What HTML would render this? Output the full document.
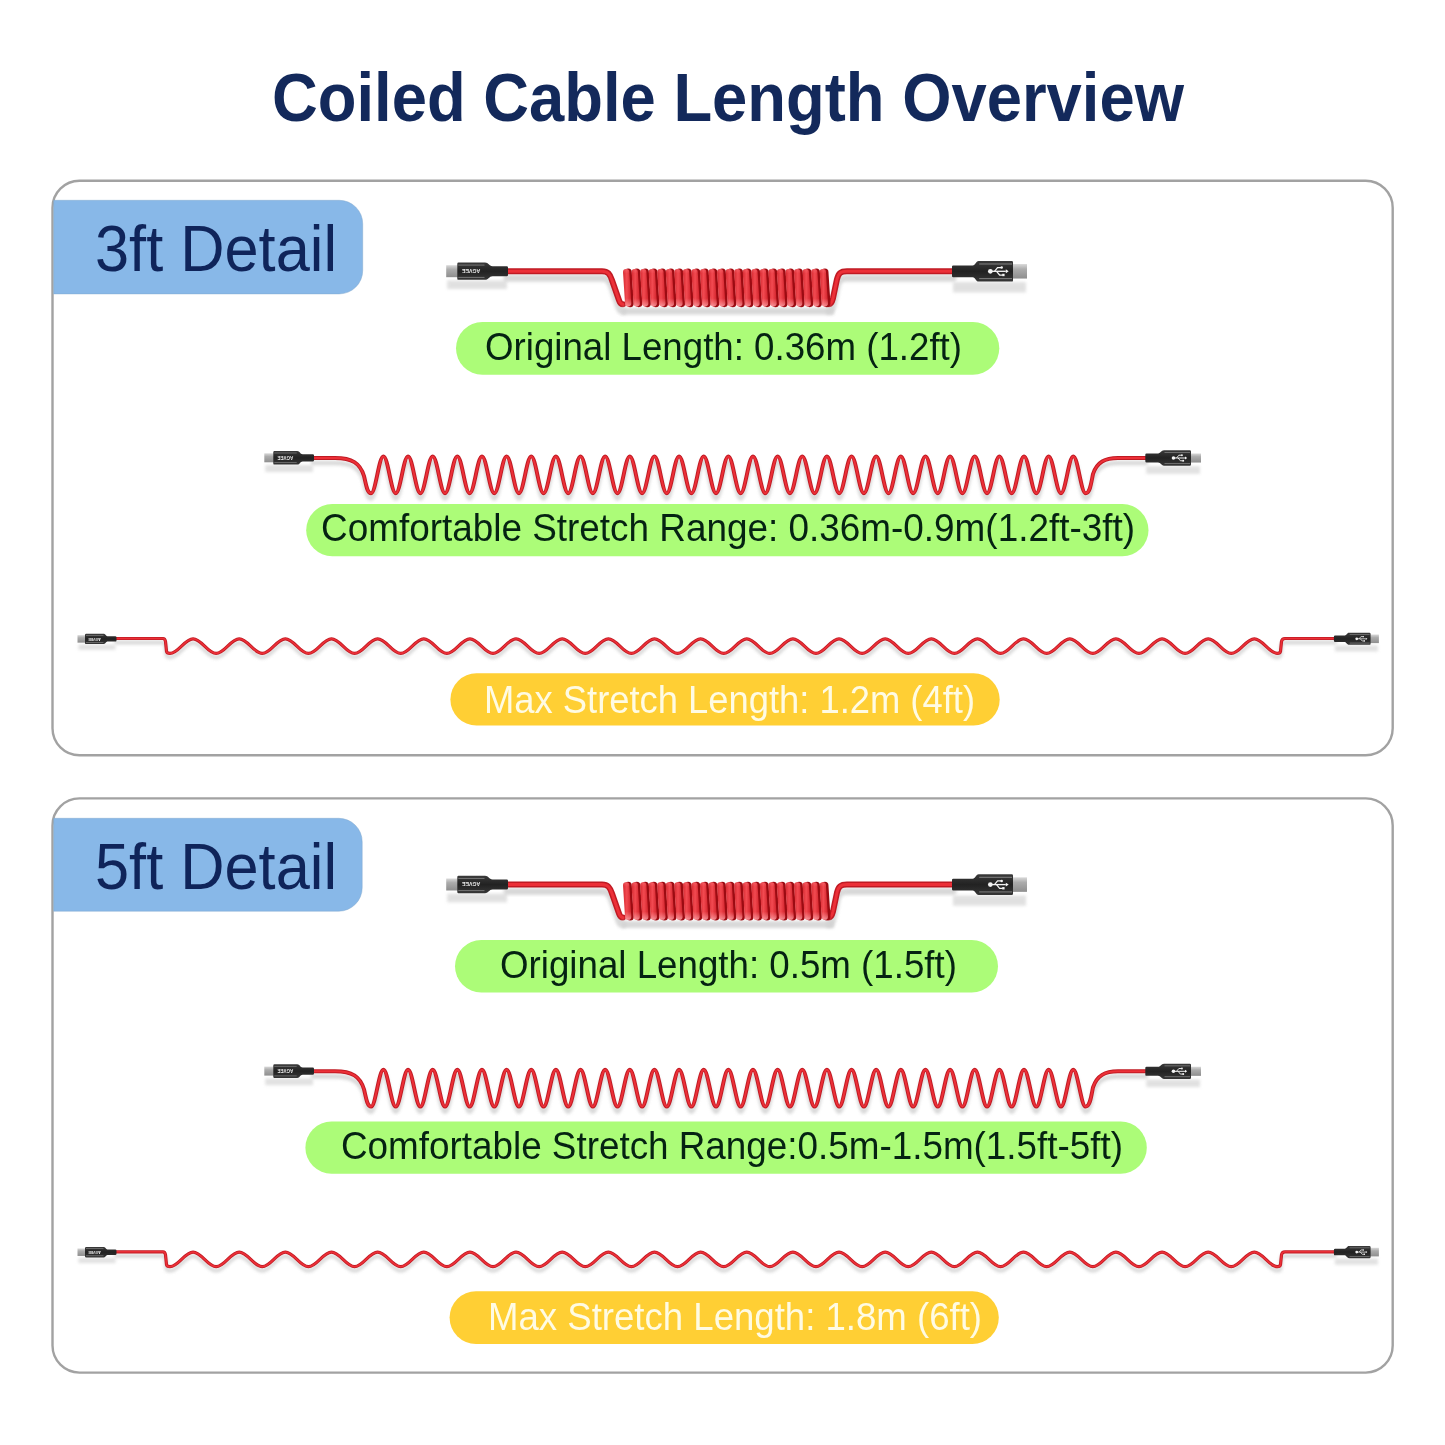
<!DOCTYPE html>
<html><head><meta charset="utf-8"><title>Coiled Cable Length Overview</title>
<style>
html,body{margin:0;padding:0;background:#fff;}
body{width:1445px;height:1445px;position:relative;overflow:hidden;font-family:"Liberation Sans",sans-serif;}
svg{position:absolute;left:0;top:0;display:block;}
</style></head><body>
<svg style="will-change:transform" width="1445" height="1445" viewBox="0 0 1445 1445">
<defs>
<linearGradient id="gTip" x1="0" y1="0" x2="0" y2="1"><stop offset="0" stop-color="#d9d9d9"/><stop offset="0.35" stop-color="#acacac"/><stop offset="1" stop-color="#8e8e8e"/></linearGradient>
<linearGradient id="gBody" x1="0" y1="0" x2="0" y2="1"><stop offset="0" stop-color="#3a3a3a"/><stop offset="0.5" stop-color="#222"/><stop offset="1" stop-color="#363636"/></linearGradient>
<linearGradient id="gCoil" x1="0" y1="0" x2="1" y2="0"><stop offset="0" stop-color="#d62a31"/><stop offset="0.45" stop-color="#f24a51"/><stop offset="1" stop-color="#d0222a"/></linearGradient>
<linearGradient id="gCoilV" x1="0" y1="0" x2="0" y2="1"><stop offset="0" stop-color="#ff8088" stop-opacity="0.35"/><stop offset="0.12" stop-color="#ff8088" stop-opacity="0"/><stop offset="0.78" stop-color="#ffb0b4" stop-opacity="0"/><stop offset="1" stop-color="#ffc8cc" stop-opacity="0.6"/></linearGradient>
<filter id="bl" x="-10%" y="-100%" width="120%" height="300%"><feGaussianBlur stdDeviation="1.4"/></filter>
<path id="po1" d="M507,271.2L602,271.2C608,271.2 610,274.2 612,280.2L619,300.2C620,303.2 621,304.2 623,304.2" fill="none" stroke-linecap="round" stroke-linejoin="round"/>
<path id="po2" d="M829,304.2C831,304.2 832,302.2 833,298.2L837,279.2C838.5,273.2 840.5,271.2 847,271.2L953,271.2" fill="none" stroke-linecap="round" stroke-linejoin="round"/>
<path id="pc" d="M313,458L335,458C352,458 360,463 364,476C366,484 367,493.3 371.1,493.3C375.59,493.3 378.93,456.4 383.42,456.4 C387.9,456.4 391.25,493.3 395.74,493.3 C400.22,493.3 403.57,456.4 408.06,456.4 C412.54,456.4 415.89,493.3 420.38,493.3 C424.86,493.3 428.21,456.4 432.69,456.4 C437.18,456.4 440.53,493.3 445.01,493.3 C449.5,493.3 452.85,456.4 457.33,456.4 C461.82,456.4 465.17,493.3 469.65,493.3 C474.14,493.3 477.49,456.4 481.97,456.4 C486.46,456.4 489.8,493.3 494.29,493.3 C498.77,493.3 502.12,456.4 506.61,456.4 C511.09,456.4 514.44,493.3 518.93,493.3 C523.41,493.3 526.76,456.4 531.25,456.4 C535.73,456.4 539.08,493.3 543.57,493.3 C548.05,493.3 551.4,456.4 555.88,456.4 C560.37,456.4 563.72,493.3 568.2,493.3 C572.69,493.3 576.04,456.4 580.52,456.4 C585.01,456.4 588.36,493.3 592.84,493.3 C597.33,493.3 600.68,456.4 605.16,456.4 C609.65,456.4 612.99,493.3 617.48,493.3 C621.96,493.3 625.31,456.4 629.8,456.4 C634.28,456.4 637.63,493.3 642.12,493.3 C646.6,493.3 649.95,456.4 654.44,456.4 C658.92,456.4 662.27,493.3 666.76,493.3 C671.24,493.3 674.59,456.4 679.07,456.4 C683.56,456.4 686.91,493.3 691.39,493.3 C695.88,493.3 699.23,456.4 703.71,456.4 C708.2,456.4 711.55,493.3 716.03,493.3 C720.52,493.3 723.86,456.4 728.35,456.4 C732.84,456.4 736.18,493.3 740.67,493.3 C745.15,493.3 748.5,456.4 752.99,456.4 C757.47,456.4 760.82,493.3 765.31,493.3 C769.79,493.3 773.14,456.4 777.63,456.4 C782.11,456.4 785.46,493.3 789.94,493.3 C794.43,493.3 797.78,456.4 802.26,456.4 C806.75,456.4 810.1,493.3 814.58,493.3 C819.07,493.3 822.42,456.4 826.9,456.4 C831.39,456.4 834.74,493.3 839.22,493.3 C843.71,493.3 847.05,456.4 851.54,456.4 C856.02,456.4 859.37,493.3 863.86,493.3 C868.34,493.3 871.69,456.4 876.18,456.4 C880.66,456.4 884.01,493.3 888.5,493.3 C892.98,493.3 896.33,456.4 900.82,456.4 C905.3,456.4 908.65,493.3 913.13,493.3 C917.62,493.3 920.97,456.4 925.45,456.4 C929.94,456.4 933.29,493.3 937.77,493.3 C942.26,493.3 945.61,456.4 950.09,456.4 C954.58,456.4 957.93,493.3 962.41,493.3 C966.9,493.3 970.24,456.4 974.73,456.4 C979.21,456.4 982.56,493.3 987.05,493.3 C991.53,493.3 994.88,456.4 999.37,456.4 C1003.85,456.4 1007.2,493.3 1011.69,493.3 C1016.17,493.3 1019.52,456.4 1024.01,456.4 C1028.49,456.4 1031.84,493.3 1036.32,493.3 C1040.81,493.3 1044.16,456.4 1048.64,456.4 C1053.13,456.4 1056.48,493.3 1060.96,493.3 C1065.45,493.3 1068.8,456.4 1073.28,456.4 C1077.77,456.4 1081.11,493.3 1085.6,493.3C1090,493.3 1091,484 1093,474C1097,462 1105,458 1118,458L1146,458" fill="none" stroke-linecap="round" stroke-linejoin="round"/>
<path id="pm" d="M116,638.5L163,638.5Q165,638.5 165.5,641.5L166.5,651.4Q167,653.4 170,653.4C178.4,653.4 184.67,638.8 193.07,638.8 C201.47,638.8 207.74,653.4 216.14,653.4 C224.54,653.4 230.81,638.8 239.21,638.8 C247.61,638.8 253.88,653.4 262.28,653.4 C270.68,653.4 276.95,638.8 285.35,638.8 C293.75,638.8 300.02,653.4 308.42,653.4 C316.83,653.4 323.1,638.8 331.5,638.8 C339.9,638.8 346.17,653.4 354.57,653.4 C362.97,653.4 369.24,638.8 377.64,638.8 C386.04,638.8 392.31,653.4 400.71,653.4 C409.11,653.4 415.38,638.8 423.78,638.8 C432.18,638.8 438.45,653.4 446.85,653.4 C455.25,653.4 461.52,638.8 469.92,638.8 C478.32,638.8 484.59,653.4 492.99,653.4 C501.39,653.4 507.66,638.8 516.06,638.8 C524.46,638.8 530.73,653.4 539.13,653.4 C547.53,653.4 553.8,638.8 562.2,638.8 C570.6,638.8 576.87,653.4 585.27,653.4 C593.68,653.4 599.95,638.8 608.35,638.8 C616.75,638.8 623.02,653.4 631.42,653.4 C639.82,653.4 646.09,638.8 654.49,638.8 C662.89,638.8 669.16,653.4 677.56,653.4 C685.96,653.4 692.23,638.8 700.63,638.8 C709.03,638.8 715.3,653.4 723.7,653.4 C732.1,653.4 738.37,638.8 746.77,638.8 C755.17,638.8 761.44,653.4 769.84,653.4 C778.24,653.4 784.51,638.8 792.91,638.8 C801.31,638.8 807.58,653.4 815.98,653.4 C824.38,653.4 830.65,638.8 839.05,638.8 C847.45,638.8 853.72,653.4 862.12,653.4 C870.53,653.4 876.8,638.8 885.2,638.8 C893.6,638.8 899.87,653.4 908.27,653.4 C916.67,653.4 922.94,638.8 931.34,638.8 C939.74,638.8 946.01,653.4 954.41,653.4 C962.81,653.4 969.08,638.8 977.48,638.8 C985.88,638.8 992.15,653.4 1000.55,653.4 C1008.95,653.4 1015.22,638.8 1023.62,638.8 C1032.02,638.8 1038.29,653.4 1046.69,653.4 C1055.09,653.4 1061.36,638.8 1069.76,638.8 C1078.16,638.8 1084.43,653.4 1092.83,653.4 C1101.23,653.4 1107.5,638.8 1115.9,638.8 C1124.3,638.8 1130.57,653.4 1138.98,653.4 C1147.38,653.4 1153.65,638.8 1162.05,638.8 C1170.45,638.8 1176.72,653.4 1185.12,653.4 C1193.52,653.4 1199.79,638.8 1208.19,638.8 C1216.59,638.8 1222.86,653.4 1231.26,653.4 C1239.66,653.4 1245.93,638.8 1254.33,638.8 C1262.73,638.8 1269,653.4 1277.4,653.4Q1280,653.4 1280.5,651.4L1281.5,641.5Q1282,638.5 1285,638.5L1335,638.5" fill="none" stroke-linecap="round" stroke-linejoin="round"/>
</defs>
<rect x="52.5" y="180.8" width="1340.2" height="574.4" rx="27" ry="27" fill="#fff" stroke="#a2a2a2" stroke-width="2.4"/><rect x="52.5" y="798.4" width="1340.2" height="574.2" rx="27" ry="27" fill="#fff" stroke="#a2a2a2" stroke-width="2.4"/><path d="M53.7,200.3H339.2A23.5,23.5 0 0 1 362.7,223.8V270.4A23.5,23.5 0 0 1 339.2,293.9H53.7Z" fill="#88b8e8" stroke="#7fa6cc" stroke-width="0.8" stroke-opacity="0.6"/><path d="M53.7,818.3H338.7A23.5,23.5 0 0 1 362.2,841.8V887.7A23.5,23.5 0 0 1 338.7,911.2H53.7Z" fill="#88b8e8" stroke="#7fa6cc" stroke-width="0.8" stroke-opacity="0.6"/><rect x="456" y="322" width="543.3" height="52.7" rx="26.35" ry="26.35" fill="#acfc78"/><rect x="306.2" y="504.1" width="842.3" height="52.1" rx="26.05" ry="26.05" fill="#acfc78"/><rect x="450.4" y="673.3" width="549.3" height="52.3" rx="26.15" ry="26.15" fill="#ffcf34"/><rect x="455" y="940" width="543" height="52.5" rx="26.25" ry="26.25" fill="#acfc78"/><rect x="305.4" y="1121.6" width="841.4" height="52.1" rx="26.05" ry="26.05" fill="#acfc78"/><rect x="449.6" y="1291.2" width="549.2" height="52.8" rx="26.4" ry="26.4" fill="#ffcf34"/>
<g id="cab"><use href="#po1" stroke="#cccccc" stroke-width="7.2" transform="translate(0,7)" filter="url(#bl)" opacity="0.75"/><use href="#po1" stroke="#c01a23" stroke-width="6"/><use href="#po1" stroke="#ec3038" stroke-width="3"/><use href="#po2" stroke="#cccccc" stroke-width="7.2" transform="translate(0,7)" filter="url(#bl)" opacity="0.75"/><use href="#po2" stroke="#c01a23" stroke-width="6"/><use href="#po2" stroke="#ec3038" stroke-width="3"/><rect x="622" y="307.7" width="212" height="7" fill="#d3d3d3" filter="url(#bl)" opacity="0.85"/><path d="M624.6,272A3.6,3.6 0 0 1 631.8,272L633.8,303.6A3.6,3.6 0 0 1 626.6,303.6Z" fill="#9c0b12"/><path d="M623,272.05A3.15,3.15 0 0 1 629.3,272.05L631.3,303.35A3.15,3.15 0 0 1 625,303.35Z" fill="url(#gCoil)"/><path d="M623,272.05A3.15,3.15 0 0 1 629.3,272.05L631.3,303.35A3.15,3.15 0 0 1 625,303.35Z" fill="url(#gCoilV)"/><path d="M633.15,272A3.6,3.6 0 0 1 640.35,272L642.35,303.6A3.6,3.6 0 0 1 635.15,303.6Z" fill="#9c0b12"/><path d="M631.55,272.05A3.15,3.15 0 0 1 637.85,272.05L639.85,303.35A3.15,3.15 0 0 1 633.55,303.35Z" fill="url(#gCoil)"/><path d="M631.55,272.05A3.15,3.15 0 0 1 637.85,272.05L639.85,303.35A3.15,3.15 0 0 1 633.55,303.35Z" fill="url(#gCoilV)"/><path d="M641.7,272A3.6,3.6 0 0 1 648.9,272L650.9,303.6A3.6,3.6 0 0 1 643.7,303.6Z" fill="#9c0b12"/><path d="M640.1,272.05A3.15,3.15 0 0 1 646.4,272.05L648.4,303.35A3.15,3.15 0 0 1 642.1,303.35Z" fill="url(#gCoil)"/><path d="M640.1,272.05A3.15,3.15 0 0 1 646.4,272.05L648.4,303.35A3.15,3.15 0 0 1 642.1,303.35Z" fill="url(#gCoilV)"/><path d="M650.25,272A3.6,3.6 0 0 1 657.45,272L659.45,303.6A3.6,3.6 0 0 1 652.25,303.6Z" fill="#9c0b12"/><path d="M648.65,272.05A3.15,3.15 0 0 1 654.95,272.05L656.95,303.35A3.15,3.15 0 0 1 650.65,303.35Z" fill="url(#gCoil)"/><path d="M648.65,272.05A3.15,3.15 0 0 1 654.95,272.05L656.95,303.35A3.15,3.15 0 0 1 650.65,303.35Z" fill="url(#gCoilV)"/><path d="M658.8,272A3.6,3.6 0 0 1 666,272L668,303.6A3.6,3.6 0 0 1 660.8,303.6Z" fill="#9c0b12"/><path d="M657.2,272.05A3.15,3.15 0 0 1 663.5,272.05L665.5,303.35A3.15,3.15 0 0 1 659.2,303.35Z" fill="url(#gCoil)"/><path d="M657.2,272.05A3.15,3.15 0 0 1 663.5,272.05L665.5,303.35A3.15,3.15 0 0 1 659.2,303.35Z" fill="url(#gCoilV)"/><path d="M667.35,272A3.6,3.6 0 0 1 674.55,272L676.55,303.6A3.6,3.6 0 0 1 669.35,303.6Z" fill="#9c0b12"/><path d="M665.75,272.05A3.15,3.15 0 0 1 672.05,272.05L674.05,303.35A3.15,3.15 0 0 1 667.75,303.35Z" fill="url(#gCoil)"/><path d="M665.75,272.05A3.15,3.15 0 0 1 672.05,272.05L674.05,303.35A3.15,3.15 0 0 1 667.75,303.35Z" fill="url(#gCoilV)"/><path d="M675.9,272A3.6,3.6 0 0 1 683.1,272L685.1,303.6A3.6,3.6 0 0 1 677.9,303.6Z" fill="#9c0b12"/><path d="M674.3,272.05A3.15,3.15 0 0 1 680.6,272.05L682.6,303.35A3.15,3.15 0 0 1 676.3,303.35Z" fill="url(#gCoil)"/><path d="M674.3,272.05A3.15,3.15 0 0 1 680.6,272.05L682.6,303.35A3.15,3.15 0 0 1 676.3,303.35Z" fill="url(#gCoilV)"/><path d="M684.45,272A3.6,3.6 0 0 1 691.65,272L693.65,303.6A3.6,3.6 0 0 1 686.45,303.6Z" fill="#9c0b12"/><path d="M682.85,272.05A3.15,3.15 0 0 1 689.15,272.05L691.15,303.35A3.15,3.15 0 0 1 684.85,303.35Z" fill="url(#gCoil)"/><path d="M682.85,272.05A3.15,3.15 0 0 1 689.15,272.05L691.15,303.35A3.15,3.15 0 0 1 684.85,303.35Z" fill="url(#gCoilV)"/><path d="M693,272A3.6,3.6 0 0 1 700.2,272L702.2,303.6A3.6,3.6 0 0 1 695,303.6Z" fill="#9c0b12"/><path d="M691.4,272.05A3.15,3.15 0 0 1 697.7,272.05L699.7,303.35A3.15,3.15 0 0 1 693.4,303.35Z" fill="url(#gCoil)"/><path d="M691.4,272.05A3.15,3.15 0 0 1 697.7,272.05L699.7,303.35A3.15,3.15 0 0 1 693.4,303.35Z" fill="url(#gCoilV)"/><path d="M701.55,272A3.6,3.6 0 0 1 708.75,272L710.75,303.6A3.6,3.6 0 0 1 703.55,303.6Z" fill="#9c0b12"/><path d="M699.95,272.05A3.15,3.15 0 0 1 706.25,272.05L708.25,303.35A3.15,3.15 0 0 1 701.95,303.35Z" fill="url(#gCoil)"/><path d="M699.95,272.05A3.15,3.15 0 0 1 706.25,272.05L708.25,303.35A3.15,3.15 0 0 1 701.95,303.35Z" fill="url(#gCoilV)"/><path d="M710.1,272A3.6,3.6 0 0 1 717.3,272L719.3,303.6A3.6,3.6 0 0 1 712.1,303.6Z" fill="#9c0b12"/><path d="M708.5,272.05A3.15,3.15 0 0 1 714.8,272.05L716.8,303.35A3.15,3.15 0 0 1 710.5,303.35Z" fill="url(#gCoil)"/><path d="M708.5,272.05A3.15,3.15 0 0 1 714.8,272.05L716.8,303.35A3.15,3.15 0 0 1 710.5,303.35Z" fill="url(#gCoilV)"/><path d="M718.65,272A3.6,3.6 0 0 1 725.85,272L727.85,303.6A3.6,3.6 0 0 1 720.65,303.6Z" fill="#9c0b12"/><path d="M717.05,272.05A3.15,3.15 0 0 1 723.35,272.05L725.35,303.35A3.15,3.15 0 0 1 719.05,303.35Z" fill="url(#gCoil)"/><path d="M717.05,272.05A3.15,3.15 0 0 1 723.35,272.05L725.35,303.35A3.15,3.15 0 0 1 719.05,303.35Z" fill="url(#gCoilV)"/><path d="M727.2,272A3.6,3.6 0 0 1 734.4,272L736.4,303.6A3.6,3.6 0 0 1 729.2,303.6Z" fill="#9c0b12"/><path d="M725.6,272.05A3.15,3.15 0 0 1 731.9,272.05L733.9,303.35A3.15,3.15 0 0 1 727.6,303.35Z" fill="url(#gCoil)"/><path d="M725.6,272.05A3.15,3.15 0 0 1 731.9,272.05L733.9,303.35A3.15,3.15 0 0 1 727.6,303.35Z" fill="url(#gCoilV)"/><path d="M735.75,272A3.6,3.6 0 0 1 742.95,272L744.95,303.6A3.6,3.6 0 0 1 737.75,303.6Z" fill="#9c0b12"/><path d="M734.15,272.05A3.15,3.15 0 0 1 740.45,272.05L742.45,303.35A3.15,3.15 0 0 1 736.15,303.35Z" fill="url(#gCoil)"/><path d="M734.15,272.05A3.15,3.15 0 0 1 740.45,272.05L742.45,303.35A3.15,3.15 0 0 1 736.15,303.35Z" fill="url(#gCoilV)"/><path d="M744.3,272A3.6,3.6 0 0 1 751.5,272L753.5,303.6A3.6,3.6 0 0 1 746.3,303.6Z" fill="#9c0b12"/><path d="M742.7,272.05A3.15,3.15 0 0 1 749,272.05L751,303.35A3.15,3.15 0 0 1 744.7,303.35Z" fill="url(#gCoil)"/><path d="M742.7,272.05A3.15,3.15 0 0 1 749,272.05L751,303.35A3.15,3.15 0 0 1 744.7,303.35Z" fill="url(#gCoilV)"/><path d="M752.85,272A3.6,3.6 0 0 1 760.05,272L762.05,303.6A3.6,3.6 0 0 1 754.85,303.6Z" fill="#9c0b12"/><path d="M751.25,272.05A3.15,3.15 0 0 1 757.55,272.05L759.55,303.35A3.15,3.15 0 0 1 753.25,303.35Z" fill="url(#gCoil)"/><path d="M751.25,272.05A3.15,3.15 0 0 1 757.55,272.05L759.55,303.35A3.15,3.15 0 0 1 753.25,303.35Z" fill="url(#gCoilV)"/><path d="M761.4,272A3.6,3.6 0 0 1 768.6,272L770.6,303.6A3.6,3.6 0 0 1 763.4,303.6Z" fill="#9c0b12"/><path d="M759.8,272.05A3.15,3.15 0 0 1 766.1,272.05L768.1,303.35A3.15,3.15 0 0 1 761.8,303.35Z" fill="url(#gCoil)"/><path d="M759.8,272.05A3.15,3.15 0 0 1 766.1,272.05L768.1,303.35A3.15,3.15 0 0 1 761.8,303.35Z" fill="url(#gCoilV)"/><path d="M769.95,272A3.6,3.6 0 0 1 777.15,272L779.15,303.6A3.6,3.6 0 0 1 771.95,303.6Z" fill="#9c0b12"/><path d="M768.35,272.05A3.15,3.15 0 0 1 774.65,272.05L776.65,303.35A3.15,3.15 0 0 1 770.35,303.35Z" fill="url(#gCoil)"/><path d="M768.35,272.05A3.15,3.15 0 0 1 774.65,272.05L776.65,303.35A3.15,3.15 0 0 1 770.35,303.35Z" fill="url(#gCoilV)"/><path d="M778.5,272A3.6,3.6 0 0 1 785.7,272L787.7,303.6A3.6,3.6 0 0 1 780.5,303.6Z" fill="#9c0b12"/><path d="M776.9,272.05A3.15,3.15 0 0 1 783.2,272.05L785.2,303.35A3.15,3.15 0 0 1 778.9,303.35Z" fill="url(#gCoil)"/><path d="M776.9,272.05A3.15,3.15 0 0 1 783.2,272.05L785.2,303.35A3.15,3.15 0 0 1 778.9,303.35Z" fill="url(#gCoilV)"/><path d="M787.05,272A3.6,3.6 0 0 1 794.25,272L796.25,303.6A3.6,3.6 0 0 1 789.05,303.6Z" fill="#9c0b12"/><path d="M785.45,272.05A3.15,3.15 0 0 1 791.75,272.05L793.75,303.35A3.15,3.15 0 0 1 787.45,303.35Z" fill="url(#gCoil)"/><path d="M785.45,272.05A3.15,3.15 0 0 1 791.75,272.05L793.75,303.35A3.15,3.15 0 0 1 787.45,303.35Z" fill="url(#gCoilV)"/><path d="M795.6,272A3.6,3.6 0 0 1 802.8,272L804.8,303.6A3.6,3.6 0 0 1 797.6,303.6Z" fill="#9c0b12"/><path d="M794,272.05A3.15,3.15 0 0 1 800.3,272.05L802.3,303.35A3.15,3.15 0 0 1 796,303.35Z" fill="url(#gCoil)"/><path d="M794,272.05A3.15,3.15 0 0 1 800.3,272.05L802.3,303.35A3.15,3.15 0 0 1 796,303.35Z" fill="url(#gCoilV)"/><path d="M804.15,272A3.6,3.6 0 0 1 811.35,272L813.35,303.6A3.6,3.6 0 0 1 806.15,303.6Z" fill="#9c0b12"/><path d="M802.55,272.05A3.15,3.15 0 0 1 808.85,272.05L810.85,303.35A3.15,3.15 0 0 1 804.55,303.35Z" fill="url(#gCoil)"/><path d="M802.55,272.05A3.15,3.15 0 0 1 808.85,272.05L810.85,303.35A3.15,3.15 0 0 1 804.55,303.35Z" fill="url(#gCoilV)"/><path d="M812.7,272A3.6,3.6 0 0 1 819.9,272L821.9,303.6A3.6,3.6 0 0 1 814.7,303.6Z" fill="#9c0b12"/><path d="M811.1,272.05A3.15,3.15 0 0 1 817.4,272.05L819.4,303.35A3.15,3.15 0 0 1 813.1,303.35Z" fill="url(#gCoil)"/><path d="M811.1,272.05A3.15,3.15 0 0 1 817.4,272.05L819.4,303.35A3.15,3.15 0 0 1 813.1,303.35Z" fill="url(#gCoilV)"/><path d="M821.25,272A3.6,3.6 0 0 1 828.45,272L830.45,303.6A3.6,3.6 0 0 1 823.25,303.6Z" fill="#9c0b12"/><path d="M819.65,272.05A3.15,3.15 0 0 1 825.95,272.05L827.95,303.35A3.15,3.15 0 0 1 821.65,303.35Z" fill="url(#gCoil)"/><path d="M819.65,272.05A3.15,3.15 0 0 1 825.95,272.05L827.95,303.35A3.15,3.15 0 0 1 821.65,303.35Z" fill="url(#gCoilV)"/><rect x="447.2" y="280.35" width="59.8" height="8.65" fill="#cdcdcd" opacity="0.6" filter="url(#bl)"/><rect x="446.2" y="265.2" width="12.1" height="12" fill="url(#gTip)"/><path d="M457.3,263.75Q457.3,262.55 458.5,262.55L485,262.55C488.8,262.55 488.8,266.2 492.6,266.2L506.8,266.2Q508,266.2 508,267.4L508,275Q508,276.2 506.8,276.2L492.6,276.2C488.8,276.2 488.8,279.85 485,279.85L458.5,279.85Q457.3,279.85 457.3,278.65Z" fill="url(#gBody)"/><rect x="458.3" y="264.63" width="26.2" height="0.87" fill="#9a9a9a" opacity="0.75"/><rect x="458.3" y="276.91" width="26.2" height="0.87" fill="#9a9a9a" opacity="0.75"/><text x="471.15" y="273.32" font-family="Liberation Sans" font-weight="bold" font-size="5.88" fill="#eeeeee" text-anchor="middle" transform="rotate(180 471.15 271.2)" textLength="18.28" lengthAdjust="spacingAndGlyphs">AGVEE</text><g transform="translate(1979,0) scale(-1,1)"><rect x="953" y="282.1" width="73" height="10.3" fill="#cdcdcd" opacity="0.6" filter="url(#bl)"/><rect x="952" y="264.05" width="15" height="14.5" fill="url(#gTip)"/><path d="M966,262.2Q966,261 967.2,261L1000.3,261C1003.35,261 1003.35,265.4 1006.4,265.4L1025.8,265.4Q1027,265.4 1027,266.6L1027,276Q1027,277.2 1025.8,277.2L1006.4,277.2C1003.35,277.2 1003.35,281.6 1000.3,281.6L967.2,281.6Q966,281.6 966,280.4Z" fill="url(#gBody)"/><rect x="967" y="263.47" width="32.8" height="1.03" fill="#9a9a9a" opacity="0.75"/><rect x="967" y="278.1" width="32.8" height="1.03" fill="#9a9a9a" opacity="0.75"/><g transform="translate(981.43,271.3) scale(-1.03,1.03)" fill="#f4f4f4" stroke="#f4f4f4"><circle cx="-7" cy="0" r="2.3" stroke="none"/><path d="M-7,0H8" stroke-width="1.3" fill="none"/><path d="M8,-1.9L10.8,0L8,1.9Z" stroke="none"/><path d="M-3,0L0,-3.6H3.5" stroke-width="1.2" fill="none"/><circle cx="4" cy="-3.6" r="1.2" stroke="none"/><path d="M-1,0L2,3.6H5" stroke-width="1.2" fill="none"/><rect x="4.5" y="2.4" width="2.3" height="2.3" stroke="none"/></g></g><use href="#pc" stroke="#cccccc" stroke-width="4.68" transform="translate(0,5)" filter="url(#bl)" opacity="0.75"/><use href="#pc" stroke="#c01a23" stroke-width="3.9"/><use href="#pc" stroke="#ec3038" stroke-width="1.95"/><rect x="265.3" y="465.1" width="47.7" height="6.8" fill="#cdcdcd" opacity="0.6" filter="url(#bl)"/><rect x="264.3" y="453.3" width="10" height="9" fill="url(#gTip)"/><path d="M273.3,452.2Q273.3,451 274.5,451L297.2,451C299.95,451 299.95,454.15 302.7,454.15L312.8,454.15Q314,454.15 314,455.35L314,460.25Q314,461.45 312.8,461.45L302.7,461.45C299.95,461.45 299.95,464.6 297.2,464.6L274.5,464.6Q273.3,464.6 273.3,463.4Z" fill="url(#gBody)"/><rect x="274.3" y="452.63" width="22.4" height="0.7" fill="#9a9a9a" opacity="0.75"/><rect x="274.3" y="462.27" width="22.4" height="0.7" fill="#9a9a9a" opacity="0.75"/><text x="285.25" y="459.46" font-family="Liberation Sans" font-weight="bold" font-size="4.62" fill="#eeeeee" text-anchor="middle" transform="rotate(180 285.25 457.8)" textLength="15.77" lengthAdjust="spacingAndGlyphs">AGVEE</text><g transform="translate(2346.3,0) scale(-1,1)"><rect x="1146.3" y="466.15" width="53.7" height="7.65" fill="#cdcdcd" opacity="0.6" filter="url(#bl)"/><rect x="1145.3" y="453.45" width="11" height="9.1" fill="url(#gTip)"/><path d="M1155.3,451.55Q1155.3,450.35 1156.5,450.35L1182.3,450.35C1185.3,450.35 1185.3,453.45 1188.3,453.45L1199.8,453.45Q1201,453.45 1201,454.65L1201,461.35Q1201,462.55 1199.8,462.55L1188.3,462.55C1185.3,462.55 1185.3,465.65 1182.3,465.65L1156.5,465.65Q1155.3,465.65 1155.3,464.45Z" fill="url(#gBody)"/><rect x="1156.3" y="452.19" width="25.5" height="0.77" fill="#9a9a9a" opacity="0.75"/><rect x="1156.3" y="463.05" width="25.5" height="0.77" fill="#9a9a9a" opacity="0.75"/><g transform="translate(1167.45,458) scale(-0.77,0.77)" fill="#f4f4f4" stroke="#f4f4f4"><circle cx="-7" cy="0" r="2.3" stroke="none"/><path d="M-7,0H8" stroke-width="1.3" fill="none"/><path d="M8,-1.9L10.8,0L8,1.9Z" stroke="none"/><path d="M-3,0L0,-3.6H3.5" stroke-width="1.2" fill="none"/><circle cx="4" cy="-3.6" r="1.2" stroke="none"/><path d="M-1,0L2,3.6H5" stroke-width="1.2" fill="none"/><rect x="4.5" y="2.4" width="2.3" height="2.3" stroke="none"/></g></g><use href="#pm" stroke="#cccccc" stroke-width="3.84" transform="translate(0,4)" filter="url(#bl)" opacity="0.75"/><use href="#pm" stroke="#c01a23" stroke-width="3.2"/><use href="#pm" stroke="#ec3038" stroke-width="1.6"/><rect x="78.5" y="644.6" width="37" height="5.2" fill="#cdcdcd" opacity="0.6" filter="url(#bl)"/><rect x="77.5" y="635.15" width="8.5" height="7.5" fill="url(#gTip)"/><path d="M85,634.9Q85,633.7 86.2,633.7L104,633.7C105.7,633.7 105.7,636.2 107.4,636.2L115.3,636.2Q116.5,636.2 116.5,637.4L116.5,640.4Q116.5,641.6 115.3,641.6L107.4,641.6C105.7,641.6 105.7,644.1 104,644.1L86.2,644.1Q85,644.1 85,642.9Z" fill="url(#gBody)"/><rect x="86" y="634.95" width="17.5" height="0.7" fill="#9a9a9a" opacity="0.75"/><rect x="86" y="642.15" width="17.5" height="0.7" fill="#9a9a9a" opacity="0.75"/><text x="94.5" y="640.17" font-family="Liberation Sans" font-weight="bold" font-size="3.54" fill="#eeeeee" text-anchor="middle" transform="rotate(180 94.5 638.9)" textLength="12.54" lengthAdjust="spacingAndGlyphs">AGVEE</text><g transform="translate(2712.8,0) scale(-1,1)"><rect x="1334.9" y="645.35" width="43" height="6.05" fill="#cdcdcd" opacity="0.6" filter="url(#bl)"/><rect x="1333.9" y="634.5" width="9.3" height="8.6" fill="url(#gTip)"/><path d="M1342.2,633.95Q1342.2,632.75 1343.4,632.75L1363.7,632.75C1366.1,632.75 1366.1,635.55 1368.5,635.55L1377.7,635.55Q1378.9,635.55 1378.9,636.75L1378.9,640.85Q1378.9,642.05 1377.7,642.05L1368.5,642.05C1366.1,642.05 1366.1,644.85 1363.7,644.85L1343.4,644.85Q1342.2,644.85 1342.2,643.65Z" fill="url(#gBody)"/><rect x="1343.2" y="634.2" width="20" height="0.7" fill="#9a9a9a" opacity="0.75"/><rect x="1343.2" y="642.7" width="20" height="0.7" fill="#9a9a9a" opacity="0.75"/><g transform="translate(1351.88,638.8) scale(-0.6,0.6)" fill="#f4f4f4" stroke="#f4f4f4"><circle cx="-7" cy="0" r="2.3" stroke="none"/><path d="M-7,0H8" stroke-width="1.3" fill="none"/><path d="M8,-1.9L10.8,0L8,1.9Z" stroke="none"/><path d="M-3,0L0,-3.6H3.5" stroke-width="1.2" fill="none"/><circle cx="4" cy="-3.6" r="1.2" stroke="none"/><path d="M-1,0L2,3.6H5" stroke-width="1.2" fill="none"/><rect x="4.5" y="2.4" width="2.3" height="2.3" stroke="none"/></g></g></g>
<use href="#cab" transform="translate(0,613.3)"/>
<g font-family="Liberation Sans">
<text x="272" y="121" font-size="68" font-weight="bold" fill="#13295b" textLength="912" lengthAdjust="spacingAndGlyphs">Coiled Cable Length Overview</text>
<text x="95" y="270.9" font-size="64" fill="#0f245a" textLength="242" lengthAdjust="spacingAndGlyphs">3ft Detail</text>
<text x="95" y="889.1" font-size="64" fill="#0f245a" textLength="242" lengthAdjust="spacingAndGlyphs">5ft Detail</text>
<text x="485" y="359.6" font-size="38" fill="#052312" textLength="477" lengthAdjust="spacingAndGlyphs">Original Length: 0.36m (1.2ft)</text>
<text x="321" y="540.6" font-size="38" fill="#052312" textLength="814" lengthAdjust="spacingAndGlyphs">Comfortable Stretch Range: 0.36m-0.9m(1.2ft-3ft)</text>
<text x="484" y="712.8" font-size="38" fill="#fffbe3" textLength="491" lengthAdjust="spacingAndGlyphs">Max Stretch Length: 1.2m (4ft)</text>
<text x="500" y="977.9" font-size="38" fill="#052312" textLength="457" lengthAdjust="spacingAndGlyphs">Original Length: 0.5m (1.5ft)</text>
<text x="341" y="1159" font-size="38" fill="#052312" textLength="782" lengthAdjust="spacingAndGlyphs">Comfortable Stretch Range:0.5m-1.5m(1.5ft-5ft)</text>
<text x="488" y="1330.2" font-size="38" fill="#fffbe3" textLength="494" lengthAdjust="spacingAndGlyphs">Max Stretch Length: 1.8m (6ft)</text>
</g>
</svg>
</body></html>
